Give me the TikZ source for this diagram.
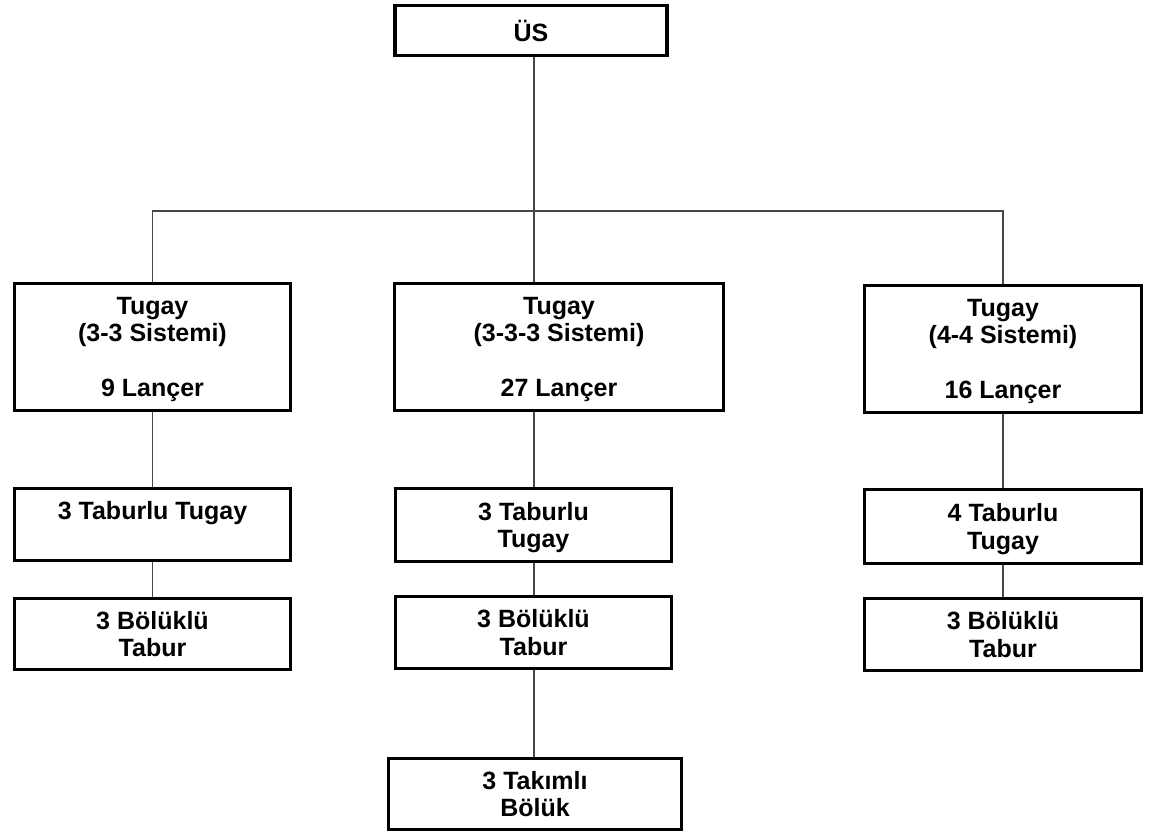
\documentclass[tikz,border=0pt]{standalone}
\usepackage{fontspec}
\setmainfont{Liberation Sans}

\begin{document}
\begin{tikzpicture}[x=1pt,y=-1pt,
		unit/.style={draw=black,line width=3.4pt,fill=white,rectangle,align=center,
			inner sep=0pt,text depth=0pt,font=\fontsize{25}{27.5}\selectfont\bfseries},
		link/.style={draw=black!72,line width=1.3pt}
	]
	\useasboundingbox (0,0) rectangle (1154,834);
	\draw[link]
		node[unit,minimum width=272,minimum height=50]  (us)  at (531,30.5)   {ÜS}

		node[unit,minimum width=276,minimum height=127] (t1)  at (152.5,347)  {Tugay\\(3-3 Sistemi)\\[27.5pt]9 Lançer}
		node[unit,minimum width=329,minimum height=127] (t2)  at (559,347)    {Tugay\\(3-3-3 Sistemi)\\[27.5pt]27 Lançer}
		node[unit,minimum width=277,minimum height=127] (t3)  at (1003,349)   {Tugay\\(4-4 Sistemi)\\[27.5pt]16 Lançer}

		node[unit,minimum width=276,minimum height=72]  (tt1) at (152.5,524.5) {3 Taburlu Tugay\\\mbox{}}
		node[unit,minimum width=276,minimum height=71]  (tb1) at (152.5,634)   {3 Bölüklü\\Tabur}

		node[unit,minimum width=276,minimum height=73]  (tt2) at (533.5,525)   {3 Taburlu\\Tugay}
		node[unit,minimum width=276,minimum height=72]  (tb2) at (533.5,632.5) {3 Bölüklü\\Tabur}
		node[unit,minimum width=293,minimum height=71]  (tk2) at (535,794)     {3 Takımlı\\Bölük}

		node[unit,minimum width=277,minimum height=74]  (tt3) at (1003,526.5)  {4 Taburlu\\Tugay}
		node[unit,minimum width=277,minimum height=72]  (tb3) at (1003,634.5)  {3 Bölüklü\\Tabur}

		coordinate (bus) at (534,211)

		(us.south -| bus) -- (bus)
		(t1.north) |- (bus) -| (t3.north)
		(bus) -- (t2.north -| bus)
		(t1) -- (tt1) -- (tb1)
		(t2.south -| bus) -- (tt2.north -| bus)
		(tt2.south -| bus) -- (tb2.north -| bus)
		(tb2.south -| bus) -- (tk2.north -| bus)
		(t3) -- (tt3) -- (tb3)
	;
\end{tikzpicture}
\end{document}
